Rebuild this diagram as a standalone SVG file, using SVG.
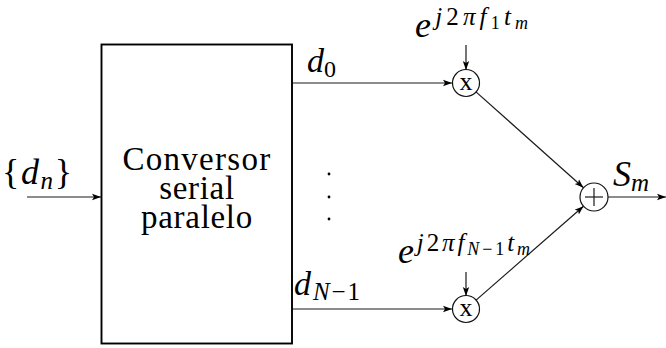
<svg xmlns="http://www.w3.org/2000/svg" width="666" height="348" viewBox="0 0 666 348" font-family="'Liberation Serif', 'DejaVu Serif', 'Noto Serif', 'Times New Roman', Times, serif">
<style>
text{font-family:'Liberation Serif','DejaVu Serif','Noto Serif','Times New Roman',Times,serif;fill:#000}
.i{font-style:italic}
.ln{stroke:#1a1a1a;stroke-width:1.2;fill:none}
.box{stroke:#000;stroke-width:1.9;fill:#fff}
.circ{stroke:#111;stroke-width:1.2;fill:#fff}
</style>
<defs>
<marker id="ah" markerUnits="userSpaceOnUse" markerWidth="10" markerHeight="8" refX="9" refY="4" orient="auto">
<path d="M0,0.8 L9,4 L0,7.2 L2,4 z" fill="#000"/>
</marker>
</defs>
<g id="connectors">
<line class="ln" x1="27" y1="197" x2="101" y2="197" marker-end="url(#ah)"/>
<line class="ln" x1="292" y1="83" x2="452" y2="83" marker-end="url(#ah)"/>
<line class="ln" x1="292" y1="309" x2="452" y2="309" marker-end="url(#ah)"/>
<line class="ln" x1="466" y1="45" x2="466" y2="70" marker-end="url(#ah)"/>
<line class="ln" x1="466" y1="272" x2="466" y2="296" marker-end="url(#ah)"/>
<line class="ln" x1="475.7" y1="91.6" x2="583.5" y2="187.7" marker-end="url(#ah)"/>
<line class="ln" x1="475.8" y1="300.4" x2="583.5" y2="206.2" marker-end="url(#ah)"/>
<line class="ln" x1="608" y1="197" x2="666" y2="197" marker-end="url(#ah)"/>
</g>
<g id="converter">
<rect class="box" x="101.5" y="44.5" width="190.5" height="299"/>
<text font-size="33" text-anchor="middle" x="197" y="170" letter-spacing="1.3">Conversor</text>
<text font-size="33" text-anchor="middle" x="197" y="199" letter-spacing="0.7">serial</text>
<text font-size="33" text-anchor="middle" x="197" y="228" letter-spacing="0.7">paralelo</text>
</g>
<g id="input-label">
<text font-size="36" x="2" y="184" textLength="70" lengthAdjust="spacing">{<tspan class="i">d</tspan><tspan font-size="25" dy="5" class="i">n</tspan><tspan dy="-5">}</tspan></text>
</g>
<g id="d0-label">
<text font-size="34" x="307" y="72"><tspan class="i">d</tspan><tspan font-size="24" dy="5">0</tspan></text>
</g>
<g id="dN1-label">
<text font-size="34" x="294" y="295" textLength="66" lengthAdjust="spacing"><tspan class="i">d</tspan><tspan font-size="25" dy="5" class="i">N</tspan><tspan font-size="25">−1</tspan></text>
</g>
<g id="dots">
<circle cx="329" cy="174" r="1.4" fill="#000"/>
<circle cx="329" cy="197" r="1.4" fill="#000"/>
<circle cx="329" cy="219" r="1.4" fill="#000"/>
</g>
<g id="mult-top">
<circle class="circ" cx="466" cy="83" r="13.5"/>
<text font-size="26" text-anchor="middle" x="466" y="90">x</text>
</g>
<g id="exp-top">
<text font-size="36" x="415" y="37" textLength="113" lengthAdjust="spacing"><tspan class="i">e</tspan><tspan font-size="25" dy="-12"><tspan class="i">j</tspan>2<tspan class="i">πf</tspan></tspan><tspan font-size="18" dy="4">1</tspan><tspan font-size="25" dy="-4" class="i">t</tspan><tspan font-size="18" dy="4" class="i">m</tspan></text>
</g>
<g id="mult-bottom">
<circle class="circ" cx="466" cy="309" r="13.5"/>
<text font-size="26" text-anchor="middle" x="466" y="316">x</text>
</g>
<g id="exp-bottom">
<text font-size="36" x="398" y="263" textLength="132" lengthAdjust="spacing"><tspan class="i">e</tspan><tspan font-size="25" dy="-12"><tspan class="i">j</tspan>2<tspan class="i">πf</tspan></tspan><tspan font-size="18" dy="4" class="i">N</tspan><tspan font-size="18">−1</tspan><tspan font-size="25" dy="-4" class="i">t</tspan><tspan font-size="18" dy="4" class="i">m</tspan></text>
</g>
<g id="adder">
<circle class="circ" cx="594" cy="197" r="14"/>
<line class="ln" x1="585" y1="197" x2="603" y2="197" stroke="#444"/>
<line class="ln" x1="594" y1="188" x2="594" y2="206" stroke="#444"/>
</g>
<g id="output-label">
<text font-size="36" x="613" y="186"><tspan class="i">S</tspan><tspan font-size="25" dy="5" class="i">m</tspan></text>
</g>
</svg>
